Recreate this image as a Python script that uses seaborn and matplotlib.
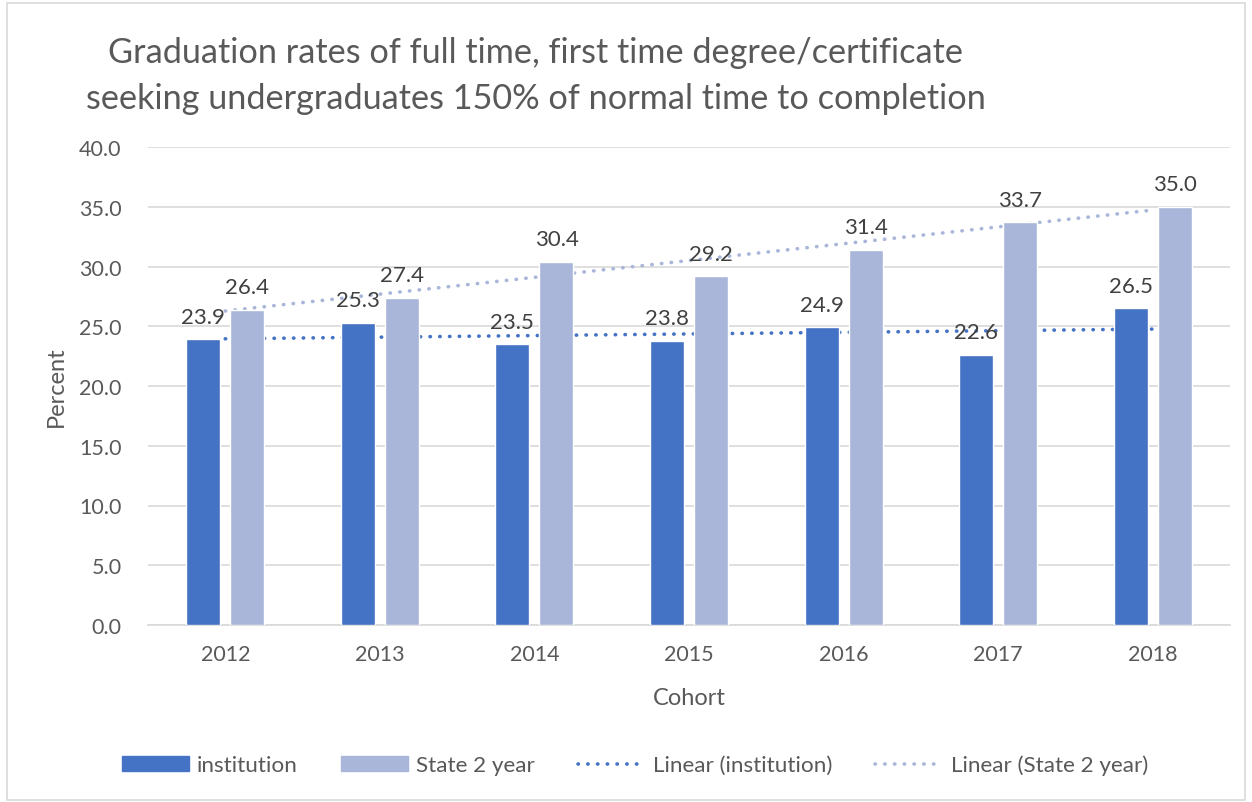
import numpy as np
import pandas as pd
import matplotlib
matplotlib.use("Agg")
import matplotlib.pyplot as plt
import seaborn as sns
from matplotlib.patches import Patch
from matplotlib.lines import Line2D

# ------------------Data------------------
cohorts = ['2012', '2013', '2014', '2015', '2016', '2017', '2018']
institution = [23.9, 25.3, 23.5, 23.8, 24.9, 22.6, 26.5]
state_2yr = [26.4, 27.4, 30.4, 29.2, 31.4, 33.7, 35.0]
series_names = ['institution', 'State 2 year']

dark_blue = '#4472C4'
light_blue = '#A9B6DA'
text_grey = '#595959'

df = pd.DataFrame({'Cohort': cohorts * 2,
                   'Percent': institution + state_2yr,
                   'Series': [series_names[0]] * len(cohorts) + [series_names[1]] * len(cohorts)})

sns.set_style('white')
plt.rcParams['font.family'] = ['Lato', 'DejaVu Sans']

fig = plt.figure(figsize=(12.52, 8.03), dpi=100)
ax = fig.add_axes([148 / 1252, 1 - 626 / 803, (1230 - 148) / 1252, (626 - 148) / 803])

sns.barplot(data=df, x='Cohort', y='Percent', hue='Series', order=cohorts,
            palette=[dark_blue, light_blue], width=0.57, gap=0.23,
            saturation=1, legend=False, ax=ax, zorder=3)

# value labels
for cont in ax.containers:
    ax.bar_label(cont, fmt='%.1f', padding=9, fontsize=16, color='#404040')

# linear trendlines
x = np.arange(len(cohorts))
for vals, col in [(institution, dark_blue), (state_2yr, light_blue)]:
    m, b = np.polyfit(x, vals, 1)
    ax.plot(x, m * x + b, color=col, lw=2.6, dashes=(0.1, 2.6),
            dash_capstyle='round', zorder=2)

ax.set_ylim(0, 40)
ax.set_xlim(-0.5, 6.5)
ax.set_yticks(np.arange(0, 41, 5))
ax.set_yticklabels([f'{v:.1f}' for v in np.arange(0, 41, 5)])
ax.yaxis.grid(True, color='#D9D9D9', lw=1.2, zorder=0)
ax.tick_params(axis='both', labelsize=15.5, colors=text_grey, length=0)
ax.tick_params(axis='x', pad=14)
ax.tick_params(axis='y', pad=19)
for s in ['left', 'right', 'top']:
    ax.spines[s].set_visible(False)
ax.spines['bottom'].set_color('#D9D9D9')
ax.spines['bottom'].set_linewidth(1.2)
ax.set_xlabel('Cohort', fontsize=17, color=text_grey, labelpad=16)
ax.set_ylabel('Percent', fontsize=17, color=text_grey)
ax.yaxis.set_label_coords(-0.075, 0.5)

# title
fig.text(536 / 1252, 1 - 53 / 803, 'Graduation rates of full time, first time degree/certificate',
         fontsize=24.7, color=text_grey, ha='center', va='center')
fig.text(536 / 1252, 1 - 99 / 803, 'seeking undergraduates 150% of normal time to completion',
         fontsize=24.7, color=text_grey, ha='center', va='center')

# legend
handles = [Patch(color=dark_blue), Patch(color=light_blue),
           Line2D([], [], color=dark_blue, lw=2.6, dashes=(0.1, 2.6), dash_capstyle='round'),
           Line2D([], [], color=light_blue, lw=2.6, dashes=(0.1, 2.6), dash_capstyle='round')]
labels = series_names + ['Linear (institution)', 'Linear (State 2 year)']
leg = fig.legend(handles, labels, loc='center', bbox_to_anchor=(0.507, 1 - 766 / 803),
                 ncol=4, frameon=False, fontsize=16.2, handlelength=3.0, handleheight=0.6,
                 columnspacing=1.9, handletextpad=0.35)
for t in leg.get_texts():
    t.set_color(text_grey)

# chart border
fig.patches.append(plt.Rectangle((7 / 1252, 0.002), 1 - 14 / 1252, 1 - 4 / 803 - 0.002,
                                 transform=fig.transFigure, fill=False,
                                 edgecolor='#D9D9D9', lw=1.2))

fig.savefig('out.png', dpi=100)
